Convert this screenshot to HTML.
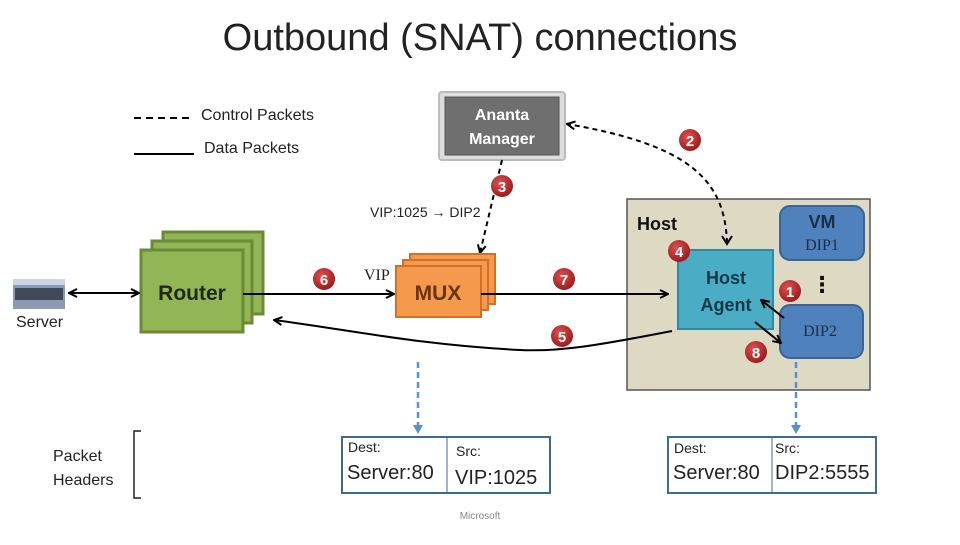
<!DOCTYPE html>
<html><head><meta charset="utf-8"><style>
body{margin:0;width:960px;height:540px;background:#fff;overflow:hidden;font-family:"Liberation Sans","DejaVu Sans",sans-serif}
</style></head><body>
<svg width="960" height="540" viewBox="0 0 960 540" xmlns="http://www.w3.org/2000/svg" font-family="Liberation Sans, DejaVu Sans, sans-serif">
<defs>
<marker id="ar" markerWidth="10" markerHeight="10" refX="9" refY="5" orient="auto" markerUnits="userSpaceOnUse"><path d="M1,1 L9,5 L1,9" fill="none" stroke="#000" stroke-width="2"/></marker>
<radialGradient id="rg" cx="40%" cy="35%" r="65%"><stop offset="0" stop-color="#e05050"/><stop offset="1" stop-color="#9e1b1b"/></radialGradient>
</defs>
<text x="480" y="50" font-size="38" text-anchor="middle" fill="#222" font-weight="300">Outbound (SNAT) connections</text>
<!-- legend -->
<line x1="134" y1="118" x2="194" y2="118" stroke="#000" stroke-width="2" stroke-dasharray="7,5"/>
<text x="201" y="120" font-size="16" fill="#222">Control Packets</text>
<line x1="134" y1="154" x2="194" y2="154" stroke="#000" stroke-width="2"/>
<text x="204" y="153" font-size="16" fill="#222">Data Packets</text>
<!-- Ananta manager -->
<rect x="439" y="92" width="126" height="68" fill="#ddd" stroke="#bbb" stroke-width="2" rx="3"/>
<rect x="445" y="97" width="114" height="58" fill="#6f6f6f" stroke="#555"/>
<text x="502" y="120" font-size="16" font-weight="bold" fill="#fff" text-anchor="middle">Ananta</text>
<text x="502" y="144" font-size="16" font-weight="bold" fill="#fff" text-anchor="middle">Manager</text>
<line x1="502" y1="160" x2="480" y2="253" stroke="#000" stroke-width="2" stroke-dasharray="5,4" marker-end="url(#ar)"/>
<text x="370" y="217" font-size="14" fill="#222">VIP:1025 → DIP2</text>
<!-- Router -->
<rect x="163" y="232" width="100" height="82" fill="#92b655" stroke="#6b8a35" stroke-width="3"/>
<rect x="152" y="241" width="100" height="82" fill="#92b655" stroke="#6b8a35" stroke-width="3"/>
<rect x="141" y="250" width="102" height="82" fill="#92b655" stroke="#6b8a35" stroke-width="3"/>
<text x="192" y="300" font-size="21" font-weight="bold" fill="#1d2a10" text-anchor="middle">Router</text>
<!-- server -->
<rect x="13" y="279" width="52" height="30" fill="#8a9ab0"/>
<rect x="15" y="288" width="48" height="12" fill="#404a58"/>
<rect x="13" y="279" width="52" height="6" fill="#c9d6e8"/>
<text x="16" y="327" font-size="16" fill="#222">Server</text>
<line x1="68" y1="293" x2="139" y2="293" stroke="#000" stroke-width="2" marker-end="url(#ar)"/>
<line x1="138" y1="293" x2="69" y2="293" stroke="#000" stroke-width="2" marker-end="url(#ar)"/>
<!-- MUX -->
<rect x="410" y="254" width="85" height="50" fill="#f59a4c" stroke="#d0702a" stroke-width="2"/>
<rect x="403" y="260" width="85" height="50" fill="#f59a4c" stroke="#d0702a" stroke-width="2"/>
<rect x="396" y="266" width="85" height="51" fill="#f59a4c" stroke="#d0702a" stroke-width="2"/>
<text x="438" y="300" font-size="21" font-weight="bold" fill="#6a3410" text-anchor="middle">MUX</text>
<text x="364" y="280" font-size="16" fill="#222" font-family="Liberation Serif, serif">VIP</text>
<line x1="243" y1="294" x2="394" y2="294" stroke="#000" stroke-width="2" marker-end="url(#ar)"/>
<!-- Host -->
<rect x="627" y="199" width="243" height="191" fill="#ddd9c3" stroke="#555" stroke-width="1.5"/>
<text x="637" y="230" font-size="18" font-weight="bold" fill="#111">Host</text>
<rect x="780" y="206" width="84" height="54" rx="10" fill="#4f81bd" stroke="#3a6499" stroke-width="2"/>
<text x="822" y="228" font-size="18" font-weight="bold" fill="#1b2e4a" text-anchor="middle">VM</text>
<text x="822" y="250" font-size="16" fill="#1b2e4a" text-anchor="middle" font-family="Liberation Serif, serif">DIP1</text>
<text x="822" y="292" font-size="22" font-weight="bold" fill="#111" text-anchor="middle">⋮</text>
<rect x="780" y="305" width="83" height="53" rx="10" fill="#4f81bd" stroke="#3a6499" stroke-width="2"/>
<text x="820" y="336" font-size="16" fill="#1b2e4a" text-anchor="middle" font-family="Liberation Serif, serif">DIP2</text>
<rect x="678" y="250" width="95" height="79" fill="#4bacc6" stroke="#2f8aa0" stroke-width="2"/>
<text x="726" y="284" font-size="18" font-weight="bold" fill="#123a46" text-anchor="middle">Host</text>
<text x="726" y="311" font-size="18" font-weight="bold" fill="#123a46" text-anchor="middle">Agent</text>
<line x1="784" y1="318" x2="761" y2="300" stroke="#000" stroke-width="2" marker-end="url(#ar)"/>
<line x1="755" y1="322" x2="781" y2="343" stroke="#000" stroke-width="2" marker-end="url(#ar)"/>
<line x1="481" y1="294" x2="668" y2="294" stroke="#000" stroke-width="2" marker-end="url(#ar)"/>
<path d="M672,331 C600,345 560,352 520,350 C420,345 350,330 274,320" fill="none" stroke="#000" stroke-width="2" marker-end="url(#ar)"/>
<!-- control dashed curve (on top of host) -->
<path d="M727,243 C725,180 690,145 567,124" fill="none" stroke="#000" stroke-width="2" stroke-dasharray="5,4" marker-end="url(#ar)"/>
<path d="M722,236 L727,244 L732,236" fill="none" stroke="#000" stroke-width="2"/>
<!-- numbers -->
<g font-size="15" font-weight="bold" fill="#fff" text-anchor="middle">
<circle cx="690" cy="140" r="11" fill="url(#rg)"/><text x="690" y="146">2</text>
<circle cx="502" cy="186" r="11" fill="url(#rg)"/><text x="502" y="192">3</text>
<circle cx="324" cy="279" r="11" fill="url(#rg)"/><text x="324" y="285">6</text>
<circle cx="564" cy="279" r="11" fill="url(#rg)"/><text x="564" y="285">7</text>
<circle cx="562" cy="336" r="11" fill="url(#rg)"/><text x="562" y="342">5</text>
<circle cx="679" cy="251" r="11" fill="url(#rg)"/><text x="679" y="257">4</text>
<circle cx="790" cy="291" r="11" fill="url(#rg)"/><text x="790" y="297">1</text>
<circle cx="756" cy="352" r="11" fill="url(#rg)"/><text x="756" y="358">8</text>
</g>
<!-- blue dashed -->
<line x1="418" y1="362" x2="418" y2="428" stroke="#5b8fc9" stroke-width="2.5" stroke-dasharray="6,4"/>
<path d="M413,425 L418,434 L423,425 Z" fill="#5b8fc9"/>
<line x1="796" y1="362" x2="796" y2="428" stroke="#5b8fc9" stroke-width="2.5" stroke-dasharray="6,4"/>
<path d="M791,425 L796,434 L801,425 Z" fill="#5b8fc9"/>
<!-- packet headers -->
<text x="53" y="461" font-size="16" fill="#222">Packet</text>
<text x="53" y="485" font-size="16" fill="#222">Headers</text>
<path d="M141,431 L134,431 L134,498 L141,498" fill="none" stroke="#222" stroke-width="1.5"/>
<rect x="342" y="437" width="208" height="56" fill="#fff" stroke="#3f6a94" stroke-width="2"/>
<line x1="447" y1="437" x2="447" y2="493" stroke="#3f6a94" stroke-width="1"/>
<text x="348" y="452" font-size="14" fill="#222">Dest:</text>
<text x="456" y="456" font-size="14" fill="#222">Src:</text>
<text x="347" y="479" font-size="20" fill="#222">Server:80</text>
<text x="455" y="484" font-size="20" fill="#222">VIP:1025</text>
<rect x="668" y="437" width="208" height="56" fill="#fff" stroke="#3f6a94" stroke-width="2"/>
<line x1="772" y1="437" x2="772" y2="493" stroke="#3f6a94" stroke-width="1"/>
<text x="674" y="453" font-size="14" fill="#222">Dest:</text>
<text x="775" y="453" font-size="14" fill="#222">Src:</text>
<text x="673" y="479" font-size="20" fill="#222">Server:80</text>
<text x="775" y="479" font-size="20" fill="#222">DIP2:5555</text>
<text x="480" y="519" font-size="10" fill="#888" text-anchor="middle">Microsoft</text>
</svg>
</body></html>
